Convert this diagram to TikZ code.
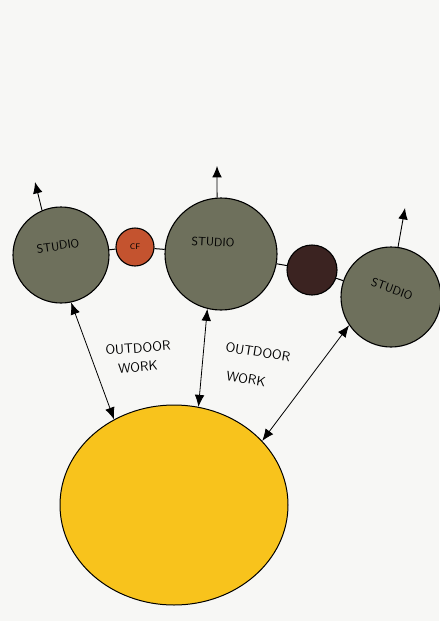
\documentclass[tikz,border=0pt]{standalone}
\usetikzlibrary{arrows.meta,positioning,calc,shapes.geometric}
\definecolor{studiogray}{HTML}{6E705C}
\definecolor{cforange}{HTML}{C4532F}
\definecolor{darkbrown}{HTML}{3B2321}
\definecolor{sunyellow}{HTML}{F8C31C}
\definecolor{paper}{HTML}{F7F7F5}

\begin{document}
\begin{tikzpicture}[
    x=1pt,y=-1pt,
    font=\sffamily,
    >=Latex,
    studio/.style={
        circle,
        draw=black,
        fill=studiogray,
        line width=1.1pt,
        inner sep=0pt
    },
    small/.style={
        circle,
        draw=black,
        line width=1.1pt,
        inner sep=0pt
    },
    roomtext/.style={font=\sffamily\large,inner sep=0pt},
    worktext/.style={font=\sffamily\fontsize{13.5}{15}\selectfont,inner sep=0pt},
    link/.style={line width=1pt},
    exit/.style={-{Latex[length=4mm,width=3.4mm]},line width=0.9pt},
    both/.style={{Latex[length=4.2mm,width=3.4mm]}-{Latex[length=4.2mm,width=3.4mm]},line width=0.8pt}
]

% Page
\fill[paper] (0,0) rectangle (439,621);
\useasboundingbox (0,0) rectangle (439,621);

% Studio cluster
\node[studio,minimum size=96pt] (studioA) at (61,255) {};
\node[small,fill=cforange,minimum size=38pt,font=\sffamily\footnotesize] (cf) at (135,247) {CF};
\node[studio,minimum size=112pt] (studioB) at (221,254) {};
\node[small,fill=darkbrown,minimum size=50pt] (dark) at (312,270) {};
\node[studio,minimum size=100pt] (studioC) at (391,297) {};

\node[roomtext,rotate=8] (nameA) at (58,246) {STUDIO};
\node[roomtext,rotate=-3] (nameB) at (213,242) {STUDIO};
\node[roomtext,rotate=-20] (nameC) at (392,289) {STUDIO};

% Links between rooms
\draw[link] (studioA) -- (cf);
\draw[link] (cf) -- (studioB);
\draw[link] (studioB) -- (dark);
\draw[link] (dark) -- (studioC);

% Exits
\coordinate (exitA) at (35,182);
\coordinate (exitB) at (217,166);
\coordinate (exitC) at (405,208);
\draw[exit] (studioA.113) -- (exitA);
\draw[exit] (studioB.94) -- (exitB);
\draw[exit] (studioC.82) -- (exitC);

% Outdoor space
\node[ellipse,draw=black,fill=sunyellow,line width=1pt,
    minimum width=228pt,minimum height=200pt] (yard) at (174,505) {};

% Outdoor work connections
\draw[both] (studioA.-78) -- (yard.125);
\draw[both] (studioB.-104) -- (yard.76);
\draw[both] (studioC.-146) -- (yard.36);

\node[worktext,rotate=4] (workA1) at (138,348) {OUTDOOR};
\node[worktext,rotate=4] (workA2) at (138,367) {WORK};
\node[worktext,rotate=-9] (workB1) at (258,352) {OUTDOOR};
\node[worktext,rotate=-9] (workB2) at (246,379) {WORK};

\end{tikzpicture}
\end{document}
